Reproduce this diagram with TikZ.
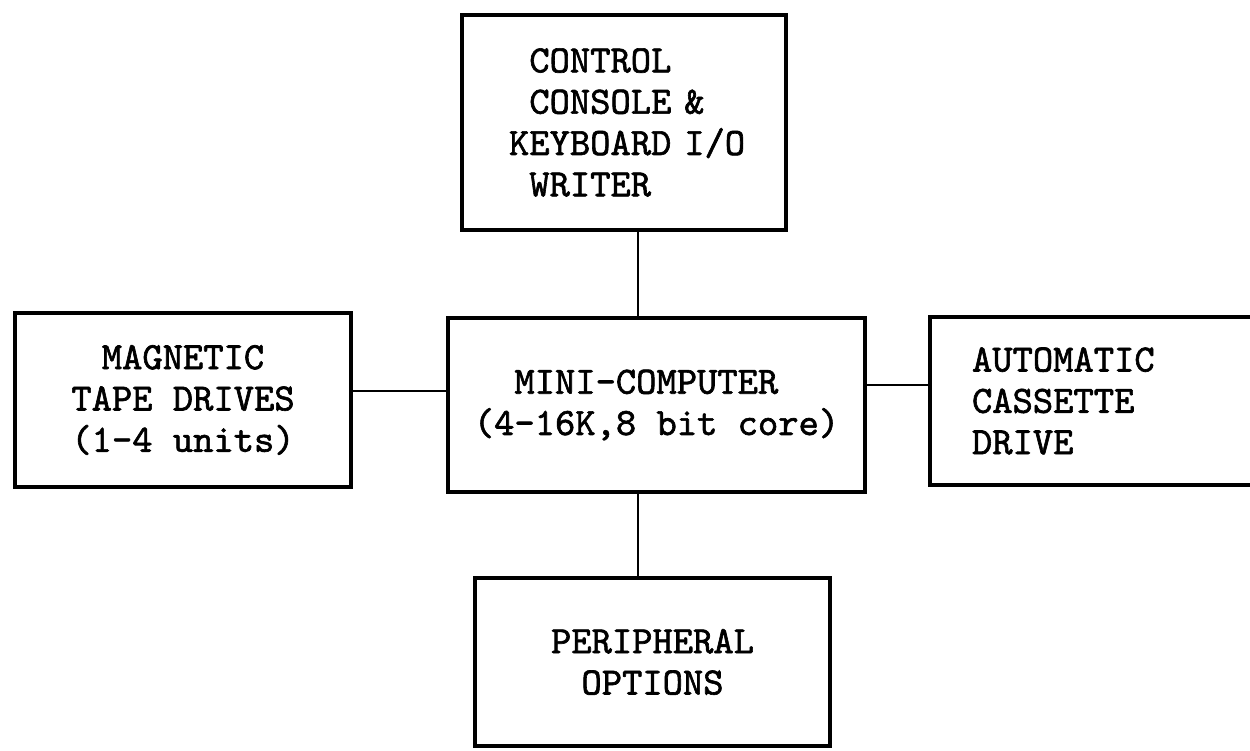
\documentclass[tikz,border=0pt]{standalone}
\usepackage{fontspec}
\newfontfamily\typefont{lmmono10-regular.otf}[FakeBold=1.6]
\usetikzlibrary{positioning}

\begin{document}
\begin{tikzpicture}
[
	unit/.style={draw,line width=2.6pt,inner sep=0pt,font=\fontsize{22}{23.5}\selectfont\typefont},
	link/.style={line width=1.2pt},
]

	\useasboundingbox (0,0) rectangle (25,15);

	% boxes
	\node[unit,minimum width=6.48cm,minimum height=4.3cm,text width=5.8cm,align=left] (console) at (12.48,12.55)
		{\hspace*{0.6cm}\phantom{X}CONTROL\\\hspace*{0.6cm}\phantom{X}CONSOLE \&\\\hspace*{0.6cm}KEYBOARD I/O\\\hspace*{0.6cm}\phantom{X}WRITER};
	\node[unit,minimum width=8.34cm,minimum height=3.48cm,align=left] (mini) at (13.13,6.9)
		{\phantom{XX}MINI-COMPUTER\\(4-16K,8 bit core)};
	\node[unit,minimum width=6.72cm,minimum height=3.48cm,align=center] (tape) at (3.66,7.0)
		{MAGNETIC\\TAPE DRIVES\\(1-4 units)};
	\node[unit,minimum width=6.8cm,minimum height=3.36cm,text width=5.12cm,align=left] (cassette) at (22.0,6.98)
		{AUTOMATIC\\CASSETTE\\DRIVE};
	\node[unit,minimum width=7.1cm,minimum height=3.36cm,align=center] (periph) at (13.05,1.76)
		{PERIPHERAL\\OPTIONS};

	% connectors
	\coordinate (vx) at (12.76,0);
	\coordinate (ly) at (0,7.18);
	\coordinate (ry) at (0,7.3);
	\draw[link] (console.south -| vx) -- (mini.north -| vx);
	\draw[link] (mini.south -| vx) -- (periph.north -| vx);
	\draw[link] (tape.east |- ly) -- (mini.west |- ly);
	\draw[link] (cassette.west |- ry) -- (mini.east |- ry);

\end{tikzpicture}
\end{document}
